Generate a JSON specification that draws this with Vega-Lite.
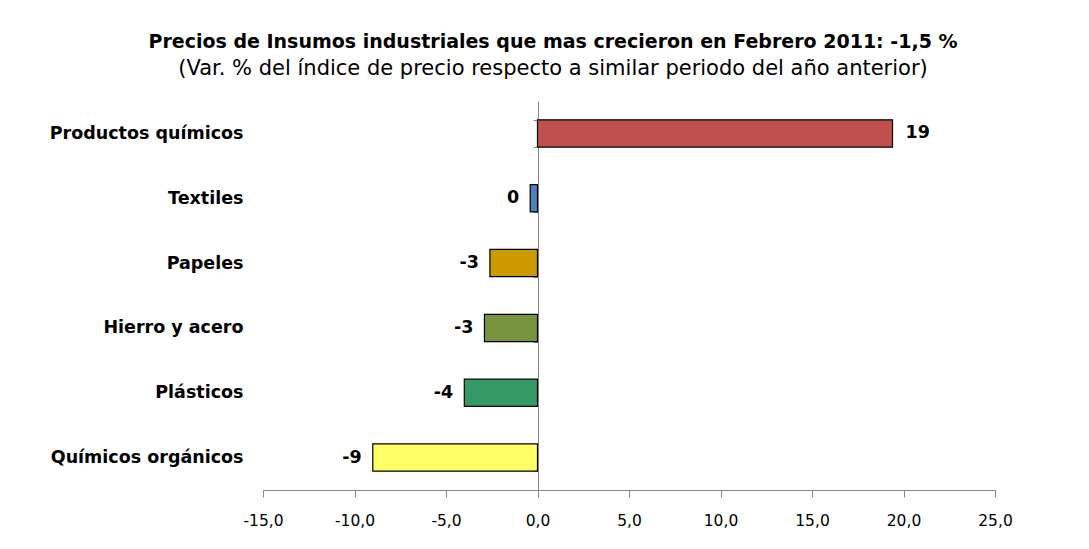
{
  "$schema": "https://vega.github.io/schema/vega-lite/v6.json",
  "width": 732,
  "height": 389,
  "autosize": {"type": "none"},
  "padding": {"left": 263, "top": 101, "right": 94, "bottom": 59},
  "background": "white",
  "config": {
    "view": {"stroke": null},
    "font": "DejaVu Sans",
    "locale": {"number": {"decimal": ",", "thousands": ".", "grouping": [3], "currency": ["", ""], "minus": "-"}}
  },
  "title": {
    "text": "Precios de Insumos industriales que mas crecieron en Febrero 2011: -1,5 %",
    "subtitle": "(Var. % del índice de precio respecto a similar periodo del año anterior)",
    "anchor": "middle",
    "dx": -76,
    "offset": 13,
    "font": "DejaVu Sans",
    "fontSize": 19,
    "fontWeight": "bold",
    "color": "#000000",
    "subtitleFont": "DejaVu Sans",
    "subtitleFontSize": 21,
    "subtitleColor": "#000000",
    "subtitlePadding": 6
  },
  "data": {
    "values": [
      {"categoria": "Productos químicos", "valor": 19.4, "etiqueta": "19", "color": "#C0504D"},
      {"categoria": "Textiles", "valor": -0.4, "etiqueta": "0", "color": "#4F81BD"},
      {"categoria": "Papeles", "valor": -2.6, "etiqueta": "-3", "color": "#CC9900"},
      {"categoria": "Hierro y acero", "valor": -2.9, "etiqueta": "-3", "color": "#77933C"},
      {"categoria": "Plásticos", "valor": -4.0, "etiqueta": "-4", "color": "#339966"},
      {"categoria": "Químicos orgánicos", "valor": -9.0, "etiqueta": "-9", "color": "#FFFF66"}
    ]
  },
  "encoding": {
    "y": {
      "field": "categoria",
      "type": "nominal",
      "sort": null,
      "scale": {"paddingInner": 0.58, "paddingOuter": 0.29},
      "axis": {
        "title": null,
        "orient": "left",
        "offset": -275,
        "domain": true,
        "domainColor": "#888888",
        "ticks": true,
        "tickBand": "extent",
        "tickColor": "#888888",
        "tickSize": 5,
        "labelPadding": 290,
        "labelFont": "DejaVu Sans",
        "labelFontSize": 17.5,
        "labelFontWeight": "bold",
        "labelColor": "#000000",
        "labelAlign": "right",
        "labelLimit": 400,
        "grid": false
      }
    }
  },
  "layer": [
    {
      "mark": {"type": "bar", "stroke": "#000000", "strokeWidth": 1.2},
      "encoding": {
        "x": {
          "field": "valor",
          "type": "quantitative",
          "scale": {"domain": [-15, 25], "nice": false, "zero": false},
          "axis": {
            "title": null,
            "values": [-15, -10, -5, 0, 5, 10, 15, 20, 25],
            "format": ".1f",
            "grid": false,
            "labelFlush": false,
            "labelOverlap": false,
            "domainColor": "#888888",
            "tickColor": "#888888",
            "tickSize": 7,
            "labelPadding": 16,
            "labelFont": "DejaVu Sans",
            "labelFontSize": 15.5,
            "labelColor": "#000000"
          }
        },
        "fill": {"field": "color", "type": "nominal", "scale": null, "legend": null}
      }
    },
    {
      "transform": [{"filter": "datum.valor >= 0"}],
      "mark": {"type": "text", "align": "left", "baseline": "middle", "dx": 13, "fontSize": 17.5, "fontWeight": "bold", "font": "DejaVu Sans", "color": "#000000"},
      "encoding": {
        "x": {"field": "valor", "type": "quantitative"},
        "text": {"field": "etiqueta"}
      }
    },
    {
      "transform": [{"filter": "datum.valor < 0"}],
      "mark": {"type": "text", "align": "right", "baseline": "middle", "dx": -11, "fontSize": 17.5, "fontWeight": "bold", "font": "DejaVu Sans", "color": "#000000"},
      "encoding": {
        "x": {"field": "valor", "type": "quantitative"},
        "text": {"field": "etiqueta"}
      }
    }
  ]
}
